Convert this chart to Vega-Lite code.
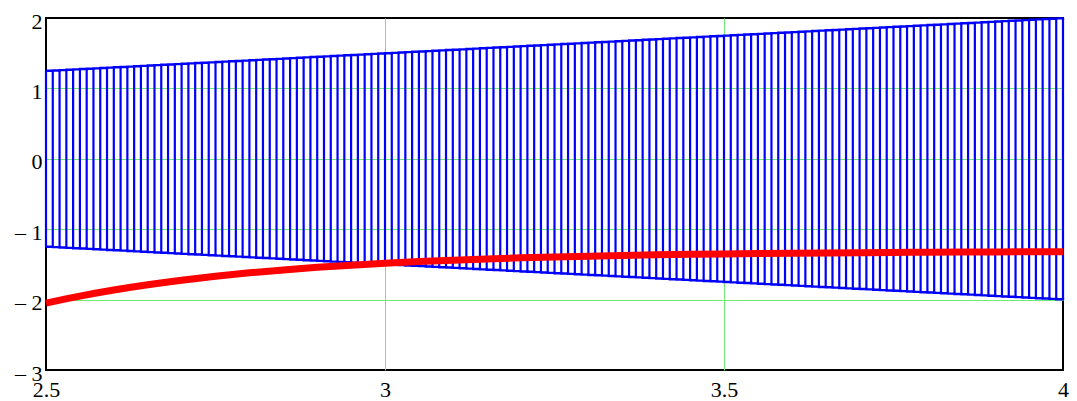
{
  "$schema": "https://vega.github.io/schema/vega-lite/v6.json",
  "autosize": "none",
  "width": 1017,
  "height": 352,
  "padding": {"left": 46, "top": 18, "right": 14, "bottom": 31},
  "background": "white",
  "config": {
    "view": {"stroke": "black", "strokeWidth": 2},
    "axis": {
      "grid": true,
      "gridWidth": 1,
      "gridOpacity": 1,
      "domain": false,
      "ticks": false,
      "labelFont": "Liberation Serif",
      "labelFontSize": 22,
      "labelColor": "black",
      "labelFlush": false,
      "labelBound": false,
      "labelOverlap": false,
      "title": null
    }
  },
  "datasets": {
    "bars": [
      {"x":2.5,"lo":-1.25,"hi":1.25},{"x":2.51,"lo":-1.255,"hi":1.255},{"x":2.52,"lo":-1.26,"hi":1.26},{"x":2.53,"lo":-1.265,"hi":1.265},{"x":2.54,"lo":-1.27,"hi":1.27},
      {"x":2.55,"lo":-1.275,"hi":1.275},{"x":2.56,"lo":-1.28,"hi":1.28},{"x":2.57,"lo":-1.285,"hi":1.285},{"x":2.58,"lo":-1.29,"hi":1.29},{"x":2.59,"lo":-1.295,"hi":1.295},
      {"x":2.6,"lo":-1.3,"hi":1.3},{"x":2.61,"lo":-1.305,"hi":1.305},{"x":2.62,"lo":-1.31,"hi":1.31},{"x":2.63,"lo":-1.315,"hi":1.315},{"x":2.64,"lo":-1.32,"hi":1.32},
      {"x":2.65,"lo":-1.325,"hi":1.325},{"x":2.66,"lo":-1.33,"hi":1.33},{"x":2.67,"lo":-1.335,"hi":1.335},{"x":2.68,"lo":-1.34,"hi":1.34},{"x":2.69,"lo":-1.345,"hi":1.345},
      {"x":2.7,"lo":-1.35,"hi":1.35},{"x":2.71,"lo":-1.355,"hi":1.355},{"x":2.72,"lo":-1.36,"hi":1.36},{"x":2.73,"lo":-1.365,"hi":1.365},{"x":2.74,"lo":-1.37,"hi":1.37},
      {"x":2.75,"lo":-1.375,"hi":1.375},{"x":2.76,"lo":-1.38,"hi":1.38},{"x":2.77,"lo":-1.385,"hi":1.385},{"x":2.78,"lo":-1.39,"hi":1.39},{"x":2.79,"lo":-1.395,"hi":1.395},
      {"x":2.8,"lo":-1.4,"hi":1.4},{"x":2.81,"lo":-1.405,"hi":1.405},{"x":2.82,"lo":-1.41,"hi":1.41},{"x":2.83,"lo":-1.415,"hi":1.415},{"x":2.84,"lo":-1.42,"hi":1.42},
      {"x":2.85,"lo":-1.425,"hi":1.425},{"x":2.86,"lo":-1.43,"hi":1.43},{"x":2.87,"lo":-1.435,"hi":1.435},{"x":2.88,"lo":-1.44,"hi":1.44},{"x":2.89,"lo":-1.445,"hi":1.445},
      {"x":2.9,"lo":-1.45,"hi":1.45},{"x":2.91,"lo":-1.455,"hi":1.455},{"x":2.92,"lo":-1.46,"hi":1.46},{"x":2.93,"lo":-1.465,"hi":1.465},{"x":2.94,"lo":-1.47,"hi":1.47},
      {"x":2.95,"lo":-1.475,"hi":1.475},{"x":2.96,"lo":-1.48,"hi":1.48},{"x":2.97,"lo":-1.485,"hi":1.485},{"x":2.98,"lo":-1.49,"hi":1.49},{"x":2.99,"lo":-1.495,"hi":1.495},
      {"x":3.0,"lo":-1.5,"hi":1.5},{"x":3.01,"lo":-1.505,"hi":1.505},{"x":3.02,"lo":-1.51,"hi":1.51},{"x":3.03,"lo":-1.515,"hi":1.515},{"x":3.04,"lo":-1.52,"hi":1.52},
      {"x":3.05,"lo":-1.525,"hi":1.525},{"x":3.06,"lo":-1.53,"hi":1.53},{"x":3.07,"lo":-1.535,"hi":1.535},{"x":3.08,"lo":-1.54,"hi":1.54},{"x":3.09,"lo":-1.545,"hi":1.545},
      {"x":3.1,"lo":-1.55,"hi":1.55},{"x":3.11,"lo":-1.555,"hi":1.555},{"x":3.12,"lo":-1.56,"hi":1.56},{"x":3.13,"lo":-1.565,"hi":1.565},{"x":3.14,"lo":-1.57,"hi":1.57},
      {"x":3.15,"lo":-1.575,"hi":1.575},{"x":3.16,"lo":-1.58,"hi":1.58},{"x":3.17,"lo":-1.585,"hi":1.585},{"x":3.18,"lo":-1.59,"hi":1.59},{"x":3.19,"lo":-1.595,"hi":1.595},
      {"x":3.2,"lo":-1.6,"hi":1.6},{"x":3.21,"lo":-1.605,"hi":1.605},{"x":3.22,"lo":-1.61,"hi":1.61},{"x":3.23,"lo":-1.615,"hi":1.615},{"x":3.24,"lo":-1.62,"hi":1.62},
      {"x":3.25,"lo":-1.625,"hi":1.625},{"x":3.26,"lo":-1.63,"hi":1.63},{"x":3.27,"lo":-1.635,"hi":1.635},{"x":3.28,"lo":-1.64,"hi":1.64},{"x":3.29,"lo":-1.645,"hi":1.645},
      {"x":3.3,"lo":-1.65,"hi":1.65},{"x":3.31,"lo":-1.655,"hi":1.655},{"x":3.32,"lo":-1.66,"hi":1.66},{"x":3.33,"lo":-1.665,"hi":1.665},{"x":3.34,"lo":-1.67,"hi":1.67},
      {"x":3.35,"lo":-1.675,"hi":1.675},{"x":3.36,"lo":-1.68,"hi":1.68},{"x":3.37,"lo":-1.685,"hi":1.685},{"x":3.38,"lo":-1.69,"hi":1.69},{"x":3.39,"lo":-1.695,"hi":1.695},
      {"x":3.4,"lo":-1.7,"hi":1.7},{"x":3.41,"lo":-1.705,"hi":1.705},{"x":3.42,"lo":-1.71,"hi":1.71},{"x":3.43,"lo":-1.715,"hi":1.715},{"x":3.44,"lo":-1.72,"hi":1.72},
      {"x":3.45,"lo":-1.725,"hi":1.725},{"x":3.46,"lo":-1.73,"hi":1.73},{"x":3.47,"lo":-1.735,"hi":1.735},{"x":3.48,"lo":-1.74,"hi":1.74},{"x":3.49,"lo":-1.745,"hi":1.745},
      {"x":3.5,"lo":-1.75,"hi":1.75},{"x":3.51,"lo":-1.755,"hi":1.755},{"x":3.52,"lo":-1.76,"hi":1.76},{"x":3.53,"lo":-1.765,"hi":1.765},{"x":3.54,"lo":-1.77,"hi":1.77},
      {"x":3.55,"lo":-1.775,"hi":1.775},{"x":3.56,"lo":-1.78,"hi":1.78},{"x":3.57,"lo":-1.785,"hi":1.785},{"x":3.58,"lo":-1.79,"hi":1.79},{"x":3.59,"lo":-1.795,"hi":1.795},
      {"x":3.6,"lo":-1.8,"hi":1.8},{"x":3.61,"lo":-1.805,"hi":1.805},{"x":3.62,"lo":-1.81,"hi":1.81},{"x":3.63,"lo":-1.815,"hi":1.815},{"x":3.64,"lo":-1.82,"hi":1.82},
      {"x":3.65,"lo":-1.825,"hi":1.825},{"x":3.66,"lo":-1.83,"hi":1.83},{"x":3.67,"lo":-1.835,"hi":1.835},{"x":3.68,"lo":-1.84,"hi":1.84},{"x":3.69,"lo":-1.845,"hi":1.845},
      {"x":3.7,"lo":-1.85,"hi":1.85},{"x":3.71,"lo":-1.855,"hi":1.855},{"x":3.72,"lo":-1.86,"hi":1.86},{"x":3.73,"lo":-1.865,"hi":1.865},{"x":3.74,"lo":-1.87,"hi":1.87},
      {"x":3.75,"lo":-1.875,"hi":1.875},{"x":3.76,"lo":-1.88,"hi":1.88},{"x":3.77,"lo":-1.885,"hi":1.885},{"x":3.78,"lo":-1.89,"hi":1.89},{"x":3.79,"lo":-1.895,"hi":1.895},
      {"x":3.8,"lo":-1.9,"hi":1.9},{"x":3.81,"lo":-1.905,"hi":1.905},{"x":3.82,"lo":-1.91,"hi":1.91},{"x":3.83,"lo":-1.915,"hi":1.915},{"x":3.84,"lo":-1.92,"hi":1.92},
      {"x":3.85,"lo":-1.925,"hi":1.925},{"x":3.86,"lo":-1.93,"hi":1.93},{"x":3.87,"lo":-1.935,"hi":1.935},{"x":3.88,"lo":-1.94,"hi":1.94},{"x":3.89,"lo":-1.945,"hi":1.945},
      {"x":3.9,"lo":-1.95,"hi":1.95},{"x":3.91,"lo":-1.955,"hi":1.955},{"x":3.92,"lo":-1.96,"hi":1.96},{"x":3.93,"lo":-1.965,"hi":1.965},{"x":3.94,"lo":-1.97,"hi":1.97},
      {"x":3.95,"lo":-1.975,"hi":1.975},{"x":3.96,"lo":-1.98,"hi":1.98},{"x":3.97,"lo":-1.985,"hi":1.985},{"x":3.98,"lo":-1.99,"hi":1.99},{"x":3.99,"lo":-1.995,"hi":1.995},
      {"x":4.0,"lo":-2.0,"hi":2.0}
    ],
    "red": [
      {"x":2.5,"y":-2.05},{"x":2.55,"y":-1.9501},{"x":2.6,"y":-1.8637},{"x":2.65,"y":-1.789},{"x":2.7,"y":-1.7243},
      {"x":2.75,"y":-1.6684},{"x":2.8,"y":-1.62},{"x":2.85,"y":-1.5782},{"x":2.9,"y":-1.542},{"x":2.95,"y":-1.5107},
      {"x":3.0,"y":-1.4836},{"x":3.05,"y":-1.4602},{"x":3.1,"y":-1.4399},{"x":3.15,"y":-1.4224},{"x":3.2,"y":-1.4072},
      {"x":3.25,"y":-1.3941},{"x":3.3,"y":-1.3827},{"x":3.35,"y":-1.3729},{"x":3.4,"y":-1.3644},{"x":3.45,"y":-1.3571},
      {"x":3.5,"y":-1.3507},{"x":3.55,"y":-1.3452},{"x":3.6,"y":-1.3405},{"x":3.65,"y":-1.3364},{"x":3.7,"y":-1.3328},
      {"x":3.75,"y":-1.3297},{"x":3.8,"y":-1.3271},{"x":3.85,"y":-1.3248},{"x":3.9,"y":-1.3228},{"x":3.95,"y":-1.321},
      {"x":4.0,"y":-1.3195}
    ]
  },
  "encoding": {
    "x": {
      "field": "x", "type": "quantitative",
      "scale": {"domain": [2.5, 4], "nice": false, "zero": false},
      "axis": {
        "values": [2.5, 3, 3.5, 4],
        "format": "~g",
        "labelPadding": 9,
        "labelBaseline": "top",
        "gridColor": {"condition": {"test": "datum.value == 2.5 || datum.value == 4", "value": "transparent"}, "value": "#74e874"}
      }
    }
  },
  "layer": [
    {
      "data": {"name": "bars"},
      "mark": {"type": "rule", "color": "#0000ff", "strokeWidth": 2.2},
      "encoding": {
        "y": {
          "field": "lo", "type": "quantitative",
          "scale": {"domain": [-3, 2], "nice": false, "zero": false},
          "axis": {
            "values": [-3, -2, -1, 0, 1, 2],
            "labelPadding": 4,
            "labelOffset": 3,
            "labelExpr": "datum.value < 0 ? '\u2013 ' + abs(datum.value) : '' + datum.value",
            "gridColor": {"condition": {"test": "datum.value == -3 || datum.value == 2", "value": "transparent"}, "value": "#74e874"}
          }
        },
        "y2": {"field": "hi"}
      }
    },
    {
      "data": {"name": "bars"},
      "mark": {"type": "line", "color": "#0000ff", "strokeWidth": 2.4, "interpolate": "step-after"},
      "encoding": {"y": {"field": "hi", "type": "quantitative"}}
    },
    {
      "data": {"name": "bars"},
      "mark": {"type": "line", "color": "#0000ff", "strokeWidth": 2.4, "interpolate": "step-after"},
      "encoding": {"y": {"field": "lo", "type": "quantitative"}}
    },
    {
      "data": {"name": "red"},
      "mark": {"type": "line", "color": "#ff0000", "strokeWidth": 7, "interpolate": "monotone"},
      "encoding": {"y": {"field": "y", "type": "quantitative"}}
    }
  ]
}
